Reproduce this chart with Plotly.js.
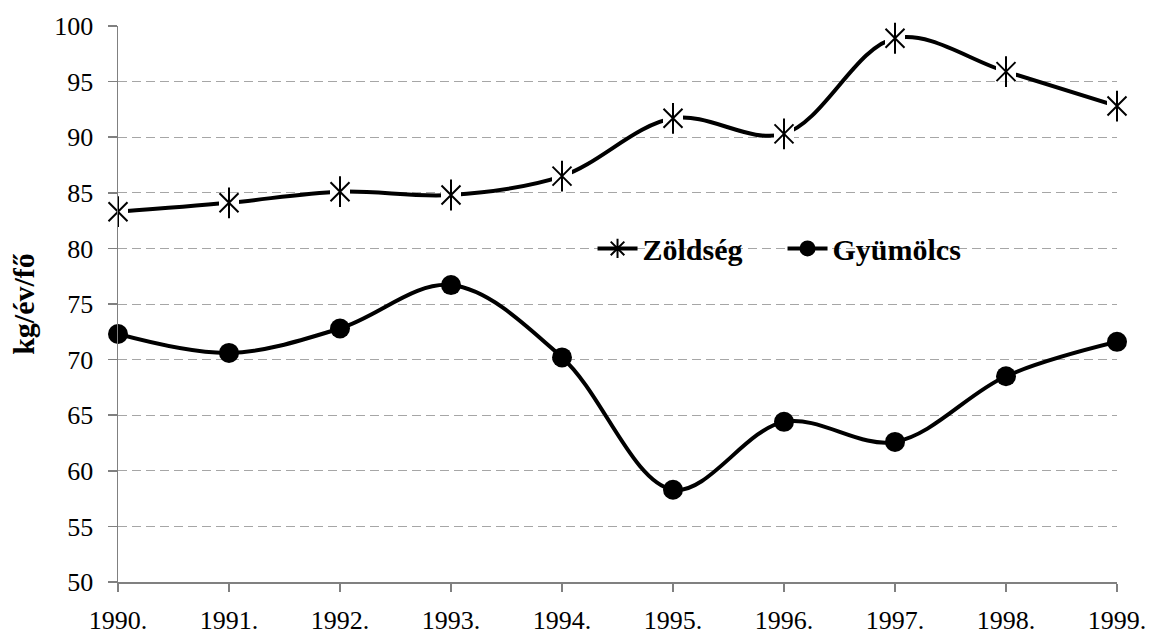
<!DOCTYPE html>
<html>
<head>
<meta charset="utf-8">
<script src="https://cdn.plot.ly/plotly-3.0.1.min.js"></script>
<style>
html,body{margin:0;padding:0;background:#fff;}
#chart{width:1152px;height:638px;}
</style>
</head>
<body>
<div id="chart"></div>
<script>
const years = [1990, 1991, 1992, 1993, 1994, 1995, 1996, 1997, 1998, 1999];
const tickLabels = ["1990.", "1991.", "1992.", "1993.", "1994.", "1995.", "1996.", "1997.", "1998.", "1999."];
const zoldseg = [83.3, 84.1, 85.1, 84.8, 86.5, 91.7, 90.3, 98.9, 95.9, 92.8];
const gyumolcs = [72.3, 70.6, 72.8, 76.7, 70.2, 58.3, 64.4, 62.6, 68.5, 71.6];
const yTicks = [50, 55, 60, 65, 70, 75, 80, 85, 90, 95, 100];

const FONT = "'Liberation Serif', 'Times New Roman', Times, serif";

const traces = [
  {
    x: years, y: gyumolcs, name: "Gyümölcs", type: "scatter", mode: "lines+markers",
    line: {color: "#000", width: 4, shape: "spline", smoothing: 1},
    marker: {symbol: "circle", size: 20, color: "#000"},
    cliponaxis: false, showlegend: true, legendrank: 2
  },
  {
    x: years, y: zoldseg, name: "Zöldség", type: "scatter", mode: "lines",
    line: {color: "#000", width: 4, shape: "spline", smoothing: 1},
    cliponaxis: false, showlegend: false, hoverinfo: "skip"
  },
  {
    x: years, y: zoldseg, name: "mask", type: "scatter", mode: "markers",
    marker: {symbol: "square", size: 20, color: "#fff", line: {width: 0}},
    cliponaxis: false, showlegend: false, hoverinfo: "skip"
  },
  {
    x: years, y: zoldseg, name: "Zöldség", type: "scatter", mode: "markers",
    marker: {symbol: "x-thin-open", size: 19, color: "#000", line: {color: "#000", width: 2}},
    cliponaxis: false, showlegend: false
  },
  {
    x: years, y: zoldseg, name: "Zöldség", type: "scatter", mode: "markers",
    marker: {symbol: "line-ns-open", size: 22, color: "#000", line: {color: "#000", width: 2}},
    cliponaxis: false, showlegend: false, hoverinfo: "skip"
  },
  {
    x: [null], y: [null], name: "Zöldség", type: "scatter", mode: "lines+markers",
    line: {color: "#000", width: 4},
    marker: {symbol: "asterisk-open", size: 16, color: "#000", line: {color: "#000", width: 2}},
    showlegend: true, legendrank: 1
  }
];

const layout = {
  width: 1152, height: 638,
  margin: {l: 118, r: 35, t: 26, b: 56},
  paper_bgcolor: "#fff", plot_bgcolor: "#fff",
  font: {family: FONT, size: 26, color: "#000"},
  xaxis: {
    range: [1990, 1999],
    tickmode: "array", tickvals: years, ticktext: tickLabels,
    showgrid: false, zeroline: false,
    showline: true, linecolor: "#808080", linewidth: 1.5,
    ticks: "outside", ticklen: 8, tickcolor: "#808080", tickwidth: 1.5,
    ticklabelstandoff: 6,
    tickfont: {family: FONT, size: 26, color: "#000"}
  },
  yaxis: {
    range: [50, 100],
    tickmode: "array", tickvals: yTicks,
    showgrid: true, gridcolor: "#a6a6a6", gridwidth: 1, griddash: "9px,5px",
    zeroline: false,
    showline: true, linecolor: "#808080", linewidth: 1.5,
    ticks: "outside", ticklen: 9, tickcolor: "#808080", tickwidth: 1.5,
    ticklabelstandoff: 9,
    tickfont: {family: FONT, size: 26, color: "#000"},
    title: {text: "<b>kg/év/fő</b>", font: {family: FONT, size: 30, color: "#000"}, standoff: 11}
  },
  legend: {
    orientation: "h", x: 0.475, y: 0.6, xanchor: "left", yanchor: "middle",
    bgcolor: "rgba(0,0,0,0)", borderwidth: 0,
    font: {family: FONT, size: 30, color: "#000", weight: "bold"},
    traceorder: "normal", itemwidth: 40, entrywidth: 135
  },
  showlegend: true
};

Plotly.newPlot("chart", traces, layout, {displayModeBar: false, staticPlot: true});
</script>
</body>
</html>
